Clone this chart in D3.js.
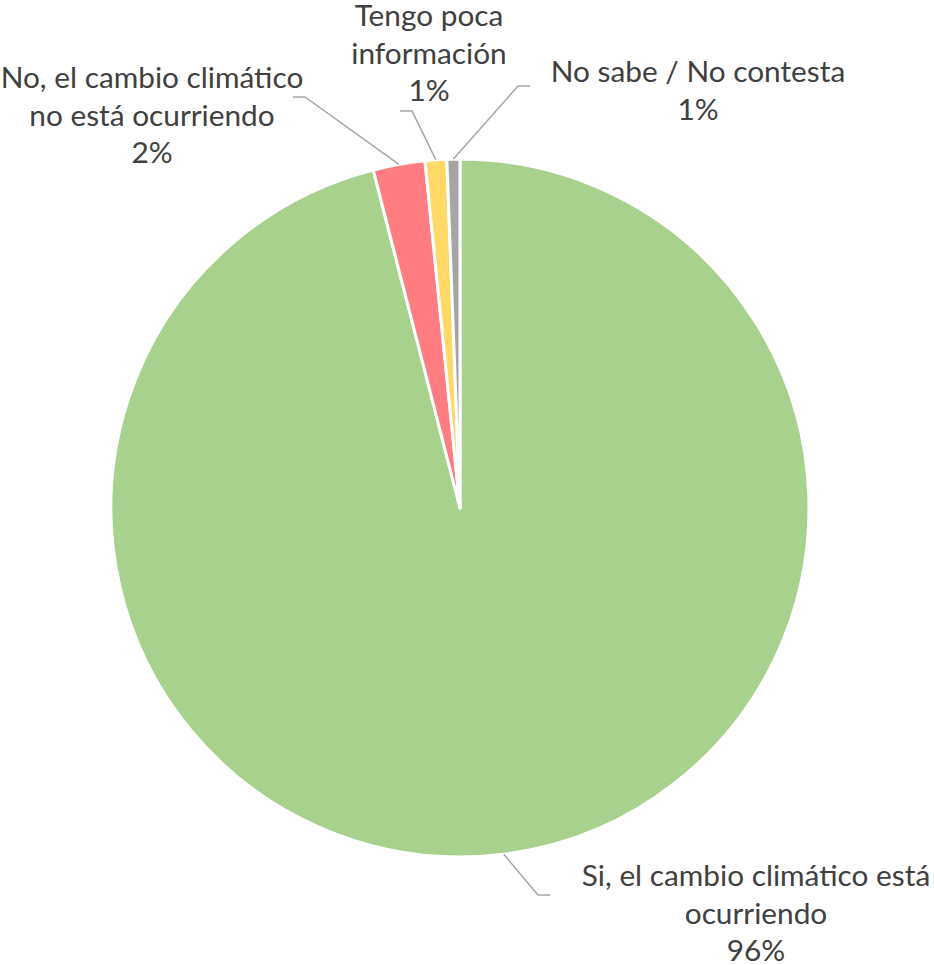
<!DOCTYPE html>
<html>
<head>
<meta charset="utf-8">
<script src="https://cdn.jsdelivr.net/npm/d3@7"></script>
<style>
  body { margin: 0; background: #fff; }
  svg { display: block; }
  .lbl { font-family: Lato, "Open Sans", sans-serif; font-size: 29.8px; fill: #404040; }
</style>
</head>
<body>
<svg class="svg-main" width="934" height="965"></svg>
<script>
// chart data
const categories = [
  "Si, el cambio climático está ocurriendo",
  "No, el cambio climático no está ocurriendo",
  "Tengo poca información",
  "No sabe / No contesta"
];
const values = [96.0, 2.4, 1.0, 0.6];
const colors = ["#a9d18e", "#ff7c80", "#ffd966", "#a5a5a5"];
// label text lines (category split as in the picture)
const labelLines = [
  ["Si, el cambio climático está", "ocurriendo"],
  ["No, el cambio climático", "no está ocurriendo"],
  ["Tengo poca", "información"],
  ["No sabe / No contesta"]
];

// layout of labels: elbow of leader line, end of horizontal part, text centre and first baseline
const labelLayout = [
  { elbow: [538, 895], end: [550, 895], tx: 756, ty: 886 },
  { elbow: [305, 97], end: [293, 97], tx: 152, ty: 88 },
  { elbow: [412, 111], end: [400, 111], tx: 429, ty: 26 },
  { elbow: [518, 86], end: [530, 86], tx: 698, ty: 82 }
];

const svg = d3.select(".svg-main");
const cx = 460, cy = 508, radius = 349;
const lineH = 37.5;

const total = d3.sum(values);
const pie = d3.pie().sort(null).value(d => d)(values);
const arc = d3.arc().innerRadius(0).outerRadius(radius);

const g = svg.append("g").attr("transform", `translate(${cx},${cy})`);

g.selectAll("path.slice")
  .data(pie)
  .enter().append("path")
    .attr("class", "slice")
    .attr("d", arc)
    .attr("fill", (d, i) => colors[i])
    .attr("stroke", "#fff")
    .attr("stroke-width", 3)
    .attr("stroke-linejoin", "round");

// leader lines
svg.append("g").selectAll("polyline")
  .data(pie)
  .enter().append("polyline")
    .attr("points", (d, i) => {
      const a = (d.startAngle + d.endAngle) / 2;
      const p0 = [cx + radius * Math.sin(a), cy - radius * Math.cos(a)];
      const L = labelLayout[i];
      return [p0, L.elbow, L.end].map(p => p.join(",")).join(" ");
    })
    .attr("fill", "none")
    .attr("stroke", "#a6a6a6")
    .attr("stroke-width", 1.5);

// labels
const labels = svg.append("g").selectAll("text")
  .data(pie)
  .enter().append("text")
    .attr("class", "lbl")
    .attr("text-anchor", "middle");

labels.each(function (d, i) {
  const t = d3.select(this);
  const L = labelLayout[i];
  const lines = labelLines[i].concat([Math.round(d.data / total * 100) + "%"]);
  lines.forEach((s, k) => {
    t.append("tspan")
      .attr("x", L.tx)
      .attr("y", L.ty + k * (i === 3 ? 38 : lineH))
      .text(s);
  });
});
</script>
</body>
</html>
